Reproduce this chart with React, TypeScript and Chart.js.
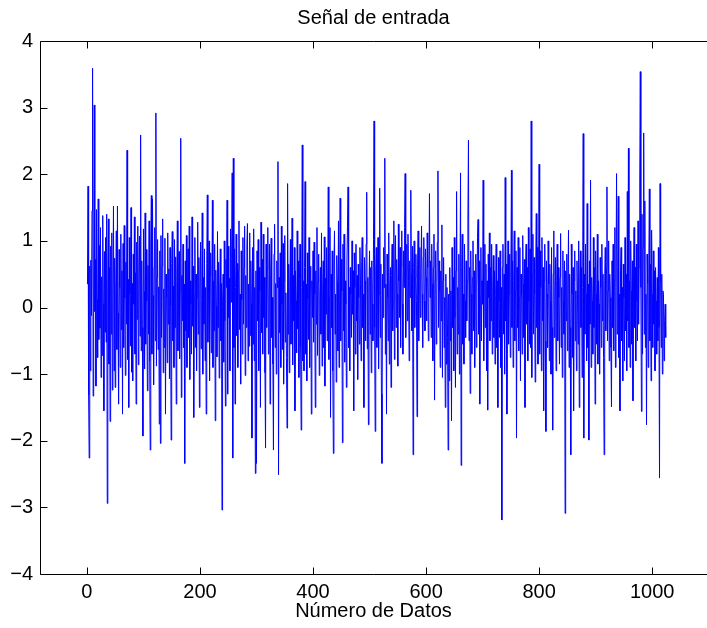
import React, { useEffect, useRef } from "react";
import { Chart, registerables } from "chart.js";

Chart.register(...registerables);

const titleText = "Señal de entrada";
const xAxisTitle = "Número de Datos";
const xTickValues = [0, 200, 400, 600, 800, 1000];
const yTickValues = [-4, -3, -2, -1, 0, 1, 2, 3, 4];
const xMin = -83;
const xMax = 1097;
const yMin = -4;
const yMax = 4;

// Señal de entrada, muestras 1..1024 (leídas aproximadamente de la imagen)
const signalA = [
  0.35, 1.82, -1.31, -2.26, 0.62, -0.95, 0.71, -0.12, 1.45, 3.59, -1.33, 0.38, 3.04, -0.06, 0.72, -1.18,
  1.47, 0.12, -0.75, 1.63, -0.48, 0.93, -0.31, 1.2, -1.05, 0.46, -0.72, 1.38, 0.05, -1.55, 0.84, -0.37,
  1.05, -0.52, 1.4, -2.94, 0.33, 1.33, -0.85, 0.6, -1.71, 0.92, -0.4, 1.12, -1.24, 0.18, 1.52, -0.95,
  0.74, -1.2, 0.28, 1.15, -0.63, 1.52, -0.08, -1.45, 0.87, 0.3, -0.9, 1.1, -0.33, 0.55, -1.6, 0.96,
  -0.6, 1.23, 0.14, -1.02, 0.68, -0.25, 2.36, -0.78, 0.42, -1.5, 1.05, 0.2, -0.58, 1.5, -0.97, 0.36,
  -1.1, 0.8, 0.05, 1.36, -0.7, 0.52, -1.45, 0.98, -0.18, 1.22, -0.86, 0.44, 1.07, -0.43, 2.59, -0.65,
  0.7, -0.3, -1.93, 1.18, 0.24, -0.92, 1.42, -0.55, 0.87, 0.1, -1.25, 0.63, -0.4, 1.3, -0.8, -2.14,
  0.95, 1.68, -0.7, 1.63, 0.18, -1.16, 0.6, 1.2, -0.5, 2.92, -0.88, 0.45, 1.02, -0.63, 0.31, -1.75,
  0.85, -2.04, 1.08, -0.45, 0.62, 1.33, -0.98, 0.28, -0.6, 1.04, -1.6, 0.5, 0.15, -0.83, 1.12, -0.25,
  0.58, -1.07, 0.9, 0.02, -1.99, 0.66, 1.14, -0.5, 0.32, -0.9, 1.02, -0.3, 0.76, -1.45, 0.4, 1.3,
  -0.65, 0.1, 0.84, -0.77, 0.25, 2.54, -1.35, 0.48, -0.2, 0.95, -0.6, 0.35, -2.34, 0.7, -0.35, 1.08,
  -0.9, 0.22, 0.88, -0.45, 1.22, -1.08, 0.4, 0.05, -0.7, 1.36, -0.28, 0.62, -1.65, 0.18, 1.05, -0.6,
  0.5, -0.95, 0.15, 1.28, -0.4, 0.75, -1.5, 0.32, 0.98, -0.62, 0.1, 1.42, -1.0, 0.45, -0.25, 0.88,
  -0.8, 0.3, -1.6, 0.66, 1.69, -0.52, 0.2, 1.0, -1.1, 0.48, 0.82, -0.68, 0.15, 1.61, -0.9, 0.4,
  -0.35, 0.95, -1.7, 0.56, 0.02, -0.74, 1.14, -0.3, 0.68, -1.06, 0.25, 0.88, -0.5, 0.36, -3.04, 0.1,
  0.5, -0.82, 1.0, -0.2, -1.48, 0.72, 0.3, 1.61, -1.3, 0.92, -0.15, 0.44, -0.95, 1.18, 0.08, 0.74,
];

const signalB = [
  2.02, -2.26, 2.24, -0.6, 0.88, -1.45, 0.3, 1.1, -0.42, 0.66, -0.9, 0.55, 1.3, -0.33, 0.2, -1.15,
  0.85, 0.12, -0.7, 1.05, -0.25, 0.6, 1.22, -1.02, 0.48, -0.3, 0.95, 1.26, -0.8, 0.35, -0.58, 1.12,
  -0.42, 0.7, 0.05, -1.96, 0.9, -0.55, 1.18, -0.8, 0.3, -2.49, 0.55, -2.34, 0.85, -0.2, 1.02, -0.95,
  0.6, 0.25, -1.5, 1.28, -0.38, 0.72, -0.7, 1.1, -0.15, 0.45, -0.98, -2.11, 0.95, -0.3, 0.58, 1.2,
  -0.7, 0.2, 0.95, -1.45, 0.5, 1.04, -0.45, 0.15, -0.85, -2.14, 0.8, 1.25, -0.6, 0.36, -1.0, 0.7,
  0.3, 2.19, -2.51, 0.45, -0.38, 0.82, -0.9, 1.22, 0.05, -0.63, 0.96, -1.15, 0.4, 1.08, -0.52, 0.22,
  -0.75, -1.81, 1.86, -0.4, 0.65, -0.98, 0.3, 1.02, -0.55, 0.2, 1.34, -0.86, 0.48, -0.2, 0.9, -1.55,
  0.55, 0.1, -0.68, 1.15, -0.32, 0.7, -1.05, 0.42, 0.95, -0.6, -1.84, 0.3, 2.44, -0.8, 0.4, -0.95,
  0.6, 1.89, -0.7, 0.35, -1.1, 0.82, 0.12, -0.48, 1.05, -0.9, 0.28, 0.62, -1.6, 0.4, -0.15, 0.85,
  -0.52, 0.98, 0.2, -1.5, 0.55, -0.25, 1.2, -0.72, 0.38, 0.8, -1.02, 0.15, 0.6, -0.4, 1.12, -0.88,
  0.25, 0.7, -0.6, 1.06, -1.18, 0.44, -0.1, 0.9, -0.5, 0.32, 1.81, -0.78, 0.15, 1.2, -1.65, 0.5,
  -0.3, 0.85, -0.95, -2.19, 0.62, 1.15, -0.4, 0.2, -1.12, 0.78, 0.38, -0.65, 1.3, -0.9, 0.1, 1.64,
  -0.5, 0.72, 0.25, -2.03, 0.95, -0.35, 1.1, -0.82, 0.4, 0.05, -1.2, 0.7, 1.22, 1.81, -0.6, 0.3,
  -0.95, 0.6, 0.2, -0.45, 1.0, -0.1, 0.55, -1.55, 0.82, 0.3, -0.7, 0.95, -0.2, 0.48, -1.08, 0.65,
  0.15, -0.55, 0.9, 0.35, -0.8, 0.62, 1.05, -0.3, 0.2, -1.5, 0.75, 0.4, -0.5, 0.95, 1.73, -0.62,
  0.45, -1.76, 0.3, 0.85, -0.4, 0.6, -0.98, 0.7, 0.05, -0.5, 1.02, 2.8, -0.3, -1.86, 0.55, 0.9,
];

const signalC = [
  -0.6, 0.4, 1.05, -0.92, 0.2, 1.79, -0.45, 0.65, -1.3, -2.34, 0.5, -0.15, 0.9, 0.3, 2.24, -0.7,
  0.35, -1.6, 0.8, 0.15, -0.5, 1.12, -0.85, 0.25, 0.6, -1.2, 0.48, 0.95, -0.35, 0.1, 1.3, -0.78,
  0.5, 1.08, -0.3, 0.72, 0.2, -0.88, 1.25, 0.4, -0.15, 0.9, -0.6, 0.62, 1.15, 0.05, -0.7, 0.85,
  0.3, 1.2, 2.01, -0.45, 0.55, 0.95, -0.2, 1.1, 0.4, -0.8, 0.7, 0.15, 1.76, 0.5, -0.35, 0.92,
  -2.21, 0.6, 1.0, -0.3, 0.45, 0.8, 0.1, -1.64, 0.65, 1.15, -0.5, 0.3, 0.9, -0.15, 0.55, 1.22,
  0.2, -0.6, 0.75, 1.05, 0.1, -0.35, 0.88, 0.45, -0.2, 1.12, 0.6, -0.5, 0.3, 1.71, 0.15, 0.7,
  -0.45, 0.95, 0.35, -0.8, 0.6, 1.1, -1.39, 0.4, 0.85, -0.55, 0.2, 0.98, 2.05, -0.3, 0.7, 0.25,
  -0.9, 0.55, -0.2, 1.24, -1.05, 0.4, 0.75, -0.6, 0.15, -1.5, 0.5, -0.85, 0.3, -0.45, -2.14, 0.2,
  -1.1, 0.6, -0.5, 0.25, -1.7, 0.9, -0.3, 0.45, -0.95, 1.05, -0.15, -1.2, 0.55, 1.74, -0.7, 0.3,
  -0.4, 0.8, -1.0, 0.35, 2.02, -2.37, 0.6, 1.1, -0.55, 0.2, -0.85, 0.95, 0.1, -0.45, 0.7, -0.2,
  0.4, 1.3, 2.51, -0.5, 0.6, -1.29, 0.85, 0.2, -0.7, 0.45, 1.0, -0.35, 0.55, -0.9, 0.25, 0.8,
  -0.6, 0.3, 1.05, 1.32, -0.4, 0.7, -1.45, 0.15, 0.9, -0.5, 0.4, 0.05, 1.91, -0.8, 0.5, 0.95,
  -0.3, 0.65, -0.95, 0.4, -1.54, 0.8, 0.15, 1.12, -0.5, 0.6, -0.2, 0.95, -0.7, 0.3, 0.78, -0.45,
  0.55, -0.85, 0.2, 0.95, -0.6, 0.4, -1.5, 0.75, 0.1, -0.45, 0.85, -0.9, 0.3, -3.19, 0.6, 0.95,
  -0.4, 0.5, -1.0, 1.95, -0.2, 0.65, -1.6, 0.35, 1.0, -0.55, 0.2, 0.8, -0.75, 0.45, 2.06, -0.3,
  0.7, -0.9, 0.4, 1.15, -0.5, 0.25, 0.85, -1.96, 0.6, -0.3, 1.05, -0.65, 0.15, 0.9, -1.1, 0.5,
];

const signalD = [
  0.2, -0.7, 1.08, 0.35, -0.45, 0.72, -1.5, 0.5, 0.95, -0.25, 0.6, -0.8, 1.2, 0.1, -0.55, 0.88,
  -0.6, 2.8, -1.05, 0.5, 1.1, -0.4, 0.75, 0.2, -1.12, 0.6, 1.41, -0.3, 0.9, -0.85, 0.45, 2.15,
  -0.7, 0.85, 0.3, -0.95, 1.05, -0.2, 0.6, -1.55, 0.4, 0.95, -0.5, -1.86, 0.7, 0.2, -0.6, 1.0,
  0.35, -0.8, 0.65, 0.1, -1.0, 0.9, -0.3, -1.84, 0.5, 1.15, -0.45, 0.2, 0.75, -0.95, 0.4, 0.95,
  -0.5, 0.6, 0.15, -0.85, 0.45, 1.11, -0.6, 0.3, -1.05, 0.85, 0.1, -0.4, 0.7, -3.09, 0.55, -0.2,
  0.8, -0.65, 0.35, 1.16, -0.9, 0.5, -0.3, -2.21, 0.95, 0.2, -0.75, 0.6, -1.55, 0.4, 0.85, -0.5,
  0.25, -0.95, 0.7, 0.1, -0.55, 1.0, -1.5, 0.45, 0.85, -0.3, 0.6, -1.05, 0.3, 2.61, -1.96, 0.5,
  -0.4, 0.95, 0.2, -0.8, 1.56, -0.6, 0.35, -1.99, 0.7, -0.25, 1.91, -0.9, 0.45, 0.1, -0.7, 1.05,
  -0.3, 0.6, -1.45, 0.85, 0.2, -0.55, 1.1, -0.85, 0.4, 0.05, -1.0, 0.75, 0.3, -0.6, 0.95, -0.2,
  0.5, -0.75, -2.21, 0.4, 0.9, -0.35, 0.6, 1.81, -0.5, 0.25, 1.0, -0.8, 0.5, 0.15, -0.6, -1.49,
  0.7, -0.3, 0.95, -0.65, 0.4, 1.2, -0.9, 0.3, 2.01, -0.4, 0.6, 1.67, -0.75, 0.2, -1.55, 0.55,
  0.9, -0.5, 0.3, -1.1, 0.65, 0.15, -0.8, 1.05, -0.35, 0.5, -0.95, 1.74, -0.2, 2.39, -0.6, 0.4,
  -0.9, 1.0, 0.25, -0.55, 0.7, -1.4, 0.4, 1.2, -0.3, 0.6, -0.8, 0.95, 0.1, -0.5, 1.3, -0.25,
  0.6, 1.9, 3.54, 0.3, -1.56, 1.4, -0.7, 0.9, 2.62, -0.4, 1.6, -0.6, 0.2, -1.76, 0.8, 0.35,
  -0.9, 0.5, 1.78, -0.5, 0.65, -1.1, 1.16, 0.2, -0.6, 0.85, -0.25, 0.55, -0.95, 0.6, 0.1, -0.7,
  0.45, -0.5, 0.9, -0.3, -2.56, 1.86, 0.4, -0.6, 0.5, -1.0, 0.25, 0.2, -0.8, -0.2, 0.05, -0.45,
];

const signal = [...signalA, ...signalB, ...signalC, ...signalD];

const FONT_FAMILY = "'Liberation Sans', Arial, Helvetica, sans-serif";
const FONT_SIZE = 20;
const TICK_LEN = 7;

const formatTick = (v: number) => (v < 0 ? "\u2212" + Math.abs(v) : String(v));

const framePlugin = {
  id: "matlabFrame",
  afterDraw(chart: any) {
    const { ctx, chartArea: a, scales } = chart;
    const L = a.left + 0.5;
    const R = a.right;
    const T = a.top + 0.5;
    const B = a.bottom + 0.5;
    ctx.save();
    ctx.strokeStyle = "#000";
    ctx.lineWidth = 1;
    ctx.beginPath();
    ctx.moveTo(R, T);
    ctx.lineTo(L, T);
    ctx.lineTo(L, B);
    ctx.lineTo(R, B);
    for (const v of xTickValues) {
      const px = Math.round(scales.x.getPixelForValue(v)) + 0.5;
      ctx.moveTo(px, B);
      ctx.lineTo(px, B - TICK_LEN);
      ctx.moveTo(px, T);
      ctx.lineTo(px, T + TICK_LEN);
    }
    for (const v of yTickValues) {
      const py = Math.round(scales.y.getPixelForValue(v)) + 0.5;
      ctx.moveTo(L, py);
      ctx.lineTo(L + TICK_LEN, py);
    }
    ctx.stroke();
    ctx.fillStyle = "#000";
    ctx.font = `${FONT_SIZE}px ${FONT_FAMILY}`;
    ctx.textAlign = "center";
    ctx.textBaseline = "middle";
    ctx.fillText(titleText, (a.left + a.right) / 2, 18);
    ctx.restore();
  },
};

export default function App() {
  const canvasRef = useRef<HTMLCanvasElement | null>(null);

  useEffect(() => {
    if (!canvasRef.current) return;
    const points = signal.map((v, i) => ({ x: i + 1, y: v }));
    const chart = new Chart(canvasRef.current, {
      type: "line",
      data: {
        datasets: [
          {
            label: titleText,
            data: points,
            borderColor: "#0000ff",
            borderWidth: 1,
            pointRadius: 0,
            tension: 0,
            fill: false,
          },
        ],
      },
      options: {
        animation: false,
        responsive: false,
        devicePixelRatio: 1,
        layout: { padding: { top: 41, left: 0, right: 0, bottom: 0 } },
        plugins: {
          legend: { display: false },
          title: { display: false },
          tooltip: { enabled: false },
        },
        scales: {
          x: {
            type: "linear",
            min: xMin,
            max: xMax,
            grid: { display: false, drawTicks: false },
            border: { display: false },
            afterBuildTicks: (scale: any) => {
              scale.ticks = xTickValues.map((v) => ({ value: v }));
            },
            afterFit: (scale: any) => {
              scale.height = 54;
            },
            ticks: {
              color: "#000",
              padding: 6,
              maxRotation: 0,
              autoSkip: false,
              font: { family: FONT_FAMILY, size: FONT_SIZE },
              callback: (v: any) => formatTick(Number(v)),
            },
            title: {
              display: true,
              text: xAxisTitle,
              color: "#000",
              font: { family: FONT_FAMILY, size: FONT_SIZE },
              padding: { top: 0, bottom: 5 },
            },
          },
          y: {
            type: "linear",
            min: yMin,
            max: yMax,
            grid: { display: false, drawTicks: false },
            border: { display: false },
            afterBuildTicks: (scale: any) => {
              scale.ticks = yTickValues.map((v) => ({ value: v }));
            },
            afterFit: (scale: any) => {
              scale.width = 40;
            },
            ticks: {
              color: "#000",
              padding: 7,
              autoSkip: false,
              font: { family: FONT_FAMILY, size: FONT_SIZE },
              callback: (v: any) => formatTick(Number(v)),
            },
          },
        },
      },
      plugins: [framePlugin],
    });
    return () => chart.destroy();
  }, []);

  return (
    <div style={{ position: "absolute", left: 0, top: 0, width: 707, height: 628, background: "#fff" }}>
      <canvas ref={canvasRef} width={707} height={628} style={{ display: "block" }} />
    </div>
  );
}
